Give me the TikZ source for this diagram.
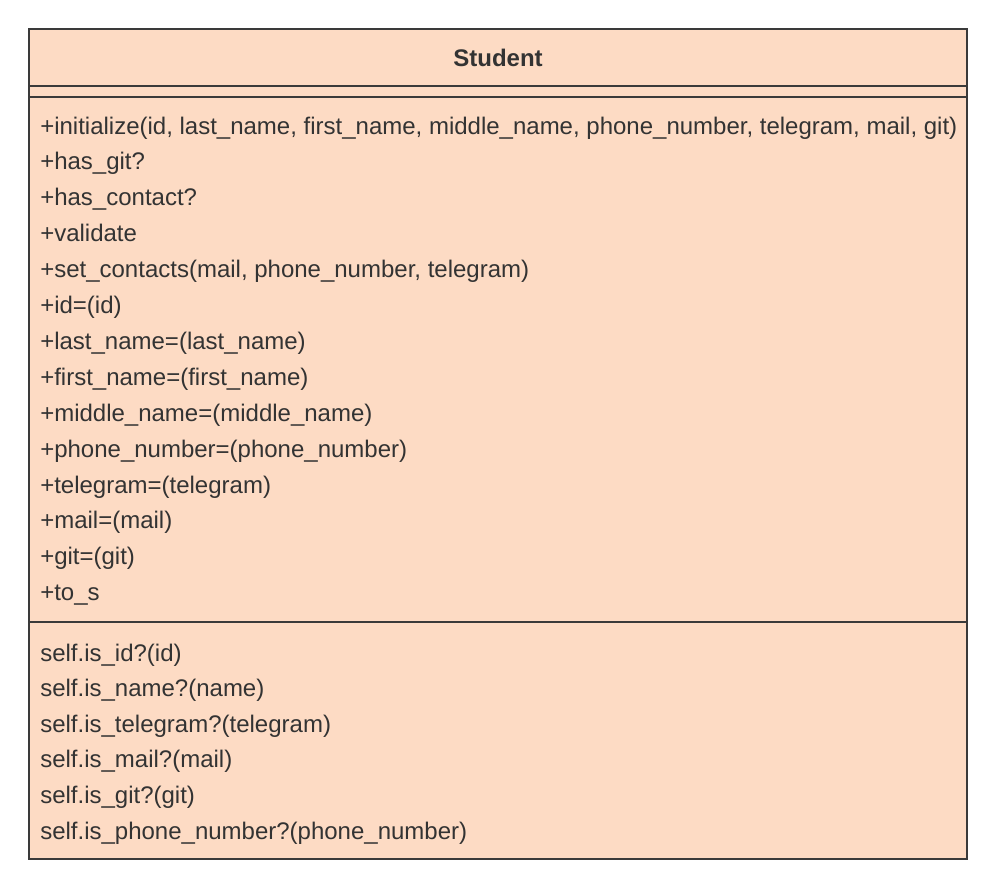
\documentclass[tikz,border=0pt]{standalone}
\usepackage{fontspec}
\setmainfont{Liberation Sans}
\usepackage{xcolor}
\definecolor{Peach}  {RGB}{253,219,196}
\definecolor{EdgeG}  {RGB}{58, 58, 58}
\definecolor{TextG}  {RGB}{51, 51, 51}
\tikzset{
  member/.style={anchor=west,inner sep=0pt,font=\fontsize{18}{21}\selectfont,text=TextG,
    text height=13pt,text depth=4pt},
}

\begin{document}
\begin{tikzpicture}[x=0.75pt,y=-0.75pt]
        \useasboundingbox (0,0) rectangle (996,889);
        \draw[fill=Peach,draw=EdgeG,line width=1pt] (29,29) rectangle (967,859);
        \draw[EdgeG,line width=1pt] (29,86)--(967,86);
        \draw[EdgeG,line width=1pt] (29,97)--(967,97);
        \draw[EdgeG,line width=1pt] (29,622)--(967,622);
        \node[font=\bfseries\fontsize{18}{21}\selectfont,text=TextG] (title) at (498,58) {Student};
        % instance methods
        \foreach \txt [count=\i] in {{+initialize(id, last\_name, first\_name, middle\_name, phone\_number, telegram, mail, git)},
            +has\_git?,+has\_contact?,+validate,{+set\_contacts(mail, phone\_number, telegram)},
            +id=(id),+last\_name=(last\_name),+first\_name=(first\_name),+middle\_name=(middle\_name),
            +phone\_number=(phone\_number),+telegram=(telegram),+mail=(mail),+git=(git),+to\_s}
          \node[member] (m\i) at (40,{128+35.9*(\i-1)}) {\txt};
        % class methods
        \foreach \txt [count=\i] in {self.is\_id?(id),self.is\_name?(name),self.is\_telegram?(telegram),
            self.is\_mail?(mail),self.is\_git?(git),self.is\_phone\_number?(phone\_number)}
          \node[member] (s\i) at (40,{655+35.6*(\i-1)}) {\txt};
      \end{tikzpicture}
\end{document}
